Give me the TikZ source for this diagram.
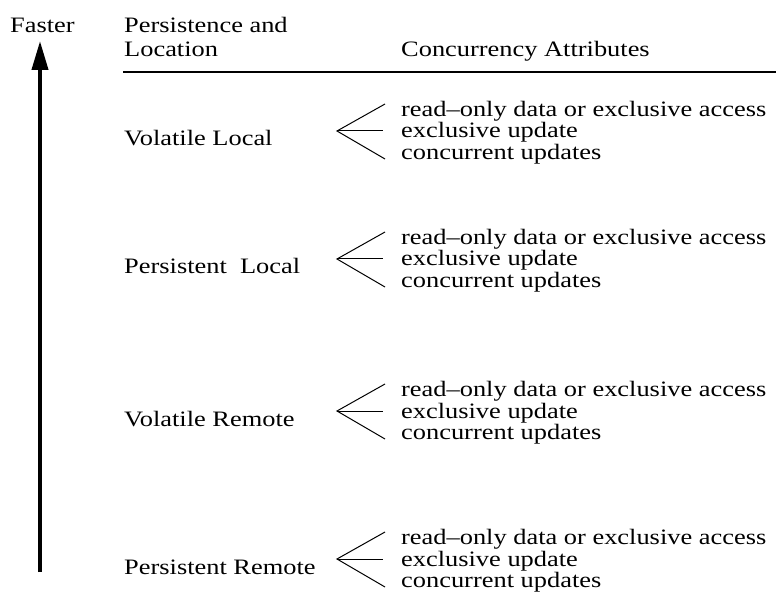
\documentclass[tikz,border=0pt]{standalone}
\usepackage{fontspec}
\setmainfont{Liberation Serif}[FakeStretch=1.2]
\usetikzlibrary{arrows.meta}
\begin{document}
\begin{tikzpicture}[x=1pt,y=-1pt,
  txt/.style={inner sep=0pt,anchor=base west,font=\fontsize{22}{21.5}\selectfont},
  fork/.style={line width=1pt},
  rule/.style={line width=2.5pt}]
\useasboundingbox (0,0) rectangle (776,601);
\node[txt] (faster) at (10,33) {Faster};
\node[txt] (h1) at (124,33) {Persistence and};
\node[txt] (h2) at (124,57) {Location};
\node[txt] (h3) at (401,57) {Concurrency Attributes};
\coordinate (rl) at (123,72);
\coordinate (rr) at (776,72);
\draw[rule] (rl) -- (rr);
\coordinate (abot) at (40,572);
\coordinate (atop) at (40,41);
\draw[line width=4pt,-{Triangle[length=29pt,width=16pt]}] (abot) -- (atop);
\foreach \i/\lab/\y in {1/Volatile Local/117, 2/Persistent\ \ Local/245, 3/Volatile Remote/397, 4/Persistent Remote/545}{
  \node[txt] (L\i) at (124,\y+29) {\lab};
  \coordinate (ap\i) at (337,\y+14);
  \node[txt] (a\i) at (401,\y-0.5) {read–only data or exclusive access};
  \node[txt] (b\i) at (401,\y+21) {exclusive update};
  \node[txt] (c\i) at (401,\y+42.5) {concurrent updates};
  \coordinate (ea\i) at (385,\y-13);
  \coordinate (eb\i) at (383,\y+14);
  \coordinate (ec\i) at (385,\y+42);
  \draw[fork] (ea\i) -- (ap\i) -- (ec\i);
  \draw[fork] (ap\i) -- (eb\i);
}
\end{tikzpicture}
\end{document}
